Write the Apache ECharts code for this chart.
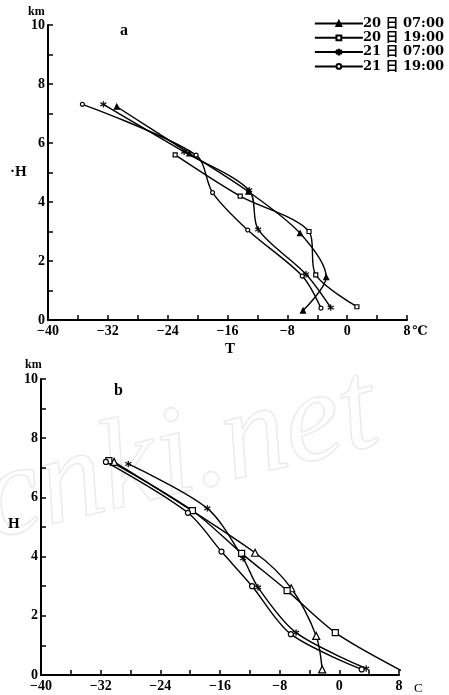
<!DOCTYPE html>
<html><head><meta charset="utf-8">
<script src="https://cdn.jsdelivr.net/npm/echarts@6/dist/echarts.min.js"></script>
<style>html,body{margin:0;padding:0;background:#fff}#c{width:449px;height:695px}</style>
</head><body><div id="c"></div>
<script>
const seriesNames = ['20 日 07:00', '20 日 19:00', '21 日 07:00', '21 日 19:00'];
const xTicks = [-40, -32, -24, -16, -8, 0, 8];
const yTicks = [0, 2, 4, 6, 8, 10];

// Panel a : temperature (°C) and height (km)
const a2007T = [-30.8, -21.1, -13.2, -6.3, -2.8, -5.9];
const a2007H = [7.23, 5.65, 4.35, 2.94, 1.45, 0.32];
const a2019T = [-23.0, -14.3, -5.1, -4.2, 1.3];
const a2019H = [5.6, 4.2, 3.0, 1.53, 0.45];
const a2107T = [-32.6, -21.8, -13.1, -11.9, -5.5, -2.2];
const a2107H = [7.31, 5.7, 4.4, 3.07, 1.55, 0.42];
const a2119T = [-35.4, -20.2, -18.0, -13.3, -6.0, -3.5];
const a2119H = [7.31, 5.59, 4.32, 3.05, 1.49, 0.4];

// Panel b
const b2007T = [-30.2, -11.3, -6.45, -3.1, -2.3];
const b2007H = [7.2, 4.13, 2.93, 1.32, 0.19];
const b2019T = [-30.9, -19.7, -13.1, -7.0, -0.54, 8.3];
const b2019H = [7.24, 5.55, 4.11, 2.85, 1.43, 0.15];
const b2107T = [-28.3, -17.7, -12.9, -10.9, -5.8, 3.6];
const b2107H = [7.13, 5.63, 3.94, 2.96, 1.43, 0.22];
const b2119T = [-31.3, -20.3, -15.8, -11.7, -6.5, 3.0];
const b2119H = [7.2, 5.48, 4.17, 3.0, 1.38, 0.19];

const zip = (t, h) => t.map((v, i) => [v, h[i]]);
const starPath = 'path://M-1,-10 L1,-10 L1,-2 L8,-6 L9,-4 L2,0 L9,4 L8,6 L1,2 L1,10 L-1,10 L-1,2 L-8,6 L-9,4 L-2,0 L-9,-4 L-8,-6 L-1,-2 Z';
const symbols = ['triangle', 'rect', starPath, 'circle'];
const styleA = { fill: ['#000', '#fff', '#000', '#fff'], size: [5, 4, 6, 4] };
const styleB = { fill: ['#fff', '#fff', '#000', '#fff'], size: [7, 6, 6, 5] };
const serif = '"Liberation Serif","DejaVu Serif","Noto Sans CJK SC",serif';

function mkSeries(name, idx, data, axis) {
  const st = axis === 0 ? styleA : styleB;
  return {
    name: name, type: 'line', xAxisIndex: axis, yAxisIndex: axis,
    data: data, smooth: 0.3, symbol: symbols[idx], symbolSize: st.size[idx],
    showSymbol: true,
    lineStyle: { color: '#000', width: 1.4 },
    itemStyle: { color: st.fill[idx], borderColor: '#000', borderWidth: idx === 2 ? 0.5 : 1.2 },
    emphasis: { disabled: true }, animation: false
  };
}

function xAx(gi) {
  return {
    gridIndex: gi, type: 'value', min: -40, max: 8, interval: 8,
    axisLine: { show: true, onZero: false, lineStyle: { color: '#000', width: 2 } },
    axisTick: { show: true, inside: true, length: 5, lineStyle: { color: '#000', width: 1.5 } },
    minorTick: { show: true, splitNumber: 2, length: 5, lineStyle: { color: '#000', width: 1.5 } },
    splitLine: { show: false },
    axisLabel: {
      margin: 4, color: '#000', fontSize: 14, fontWeight: 'bold', fontFamily: serif,
      formatter: v => (xTicks.indexOf(v) >= 0 ? (v < 0 ? '\u2212' + Math.abs(v) : String(v)) : '')
    }
  };
}
function yAx(gi) {
  return {
    gridIndex: gi, type: 'value', min: 0, max: 10, interval: 2,
    axisLine: { show: true, onZero: false, lineStyle: { color: '#000', width: 2 } },
    axisTick: { show: true, inside: true, length: 5, lineStyle: { color: '#000', width: 1.5 } },
    minorTick: { show: true, splitNumber: 2, length: 5, lineStyle: { color: '#000', width: 1.5 } },
    splitLine: { show: false },
    axisLabel: {
      margin: 3, color: '#000', fontSize: 14, fontWeight: 'bold', fontFamily: serif,
      formatter: v => (yTicks.indexOf(v) >= 0 ? String(v) : '')
    }
  };
}

const txt = (x, y, s, size, extra) => Object.assign({
  type: 'text', left: x, top: y, z: 10,
  style: { text: s, fill: '#000', font: 'bold ' + size + 'px ' + serif }
}, extra || {});

const chart = echarts.init(document.getElementById('c'), null, { renderer: 'canvas' });
chart.setOption({
  animation: false,
  backgroundColor: '#fff',
  grid: [
    { left: 48, right: 42, top: 25, bottom: 375 },
    { left: 41, right: 50, top: 379, bottom: 20 }
  ],
  xAxis: [xAx(0), xAx(1)],
  yAxis: [yAx(0), yAx(1)],
  legend: {
    data: seriesNames, orient: 'vertical', right: 0, top: 12,
    itemWidth: 48, itemHeight: 6, itemGap: 1.3, selectedMode: false,
    textStyle: { color: '#000', fontSize: 13, fontWeight: 'bold', fontFamily: '"DejaVu Serif","Noto Sans CJK SC",serif', padding: [0, 0, 0, -5] }
  },
  graphic: [
    {
      type: 'text', x: 180, y: 458, rotation: 0.24, z: 0, silent: true,
      style: { text: 'cnki.net', font: 'italic 128px "Liberation Serif",serif', fill: 'rgba(0,0,0,0)', stroke: '#ebebeb', lineWidth: 1.5, align: 'center', verticalAlign: 'middle' }
    },
    txt(28, 6, 'km', 12),
    txt(120, 23, 'a', 16),
    txt(10, 165, '\u00b7H', 15),
    txt(225, 342, 'T', 15),
    txt(412, 325, '\u2103', 13),
    txt(25, 359, 'km', 12),
    txt(114, 383, 'b', 16),
    txt(8, 517, 'H', 15),
    txt(414, 682, 'C', 13, { style: { text: 'C', fill: '#000', font: '13px ' + serif } })
  ],
  series: [
    mkSeries(seriesNames[0], 0, zip(a2007T, a2007H), 0),
    mkSeries(seriesNames[1], 1, zip(a2019T, a2019H), 0),
    mkSeries(seriesNames[2], 2, zip(a2107T, a2107H), 0),
    mkSeries(seriesNames[3], 3, zip(a2119T, a2119H), 0),
    mkSeries(seriesNames[0], 0, zip(b2007T, b2007H), 1),
    mkSeries(seriesNames[1], 1, zip(b2019T, b2019H), 1),
    mkSeries(seriesNames[2], 2, zip(b2107T, b2107H), 1),
    mkSeries(seriesNames[3], 3, zip(b2119T, b2119H), 1)
  ]
});
</script></body></html>
